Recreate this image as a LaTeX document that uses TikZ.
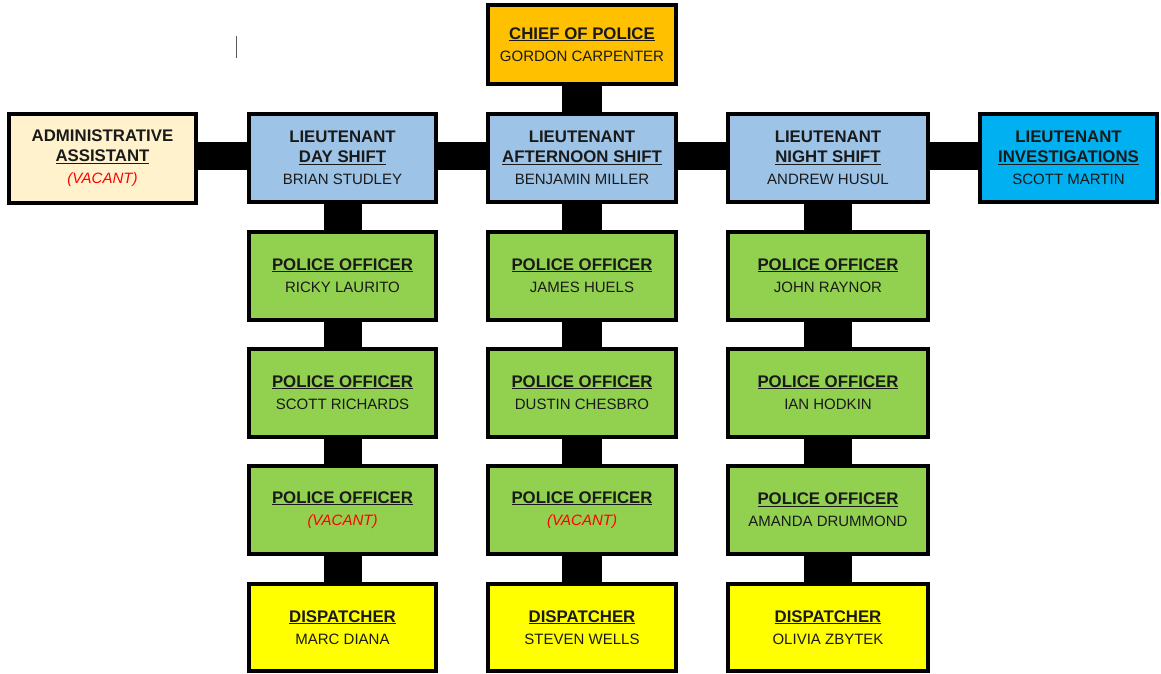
\documentclass[tikz,border=0pt]{standalone}
\usepackage{fontspec}
\setmainfont{Liberation Sans}
\usetikzlibrary{backgrounds}
\definecolor{chiefc}{HTML}{FFC000}
\definecolor{ltc}{HTML}{9DC3E6}
\definecolor{invc}{HTML}{00B0F0}
\definecolor{admc}{HTML}{FFF2CC}
\definecolor{offc}{HTML}{92D050}
\definecolor{dispc}{HTML}{FFFF00}
\definecolor{vacc}{HTML}{FF0000}
\definecolor{txtc}{HTML}{1A1A1A}
\newsavebox\ulbox
\newcommand\ulx[1]{\sbox{\ulbox}{#1}\rlap{\rule[-2pt]{\wd\ulbox}{1.2pt}}\usebox{\ulbox}}
\newcommand\ttlA[1]{{\fontsize{16.8}{20}\selectfont\bfseries #1}}
\newcommand\ttlU[1]{{\fontsize{16.8}{20}\selectfont\bfseries\ulx{#1}}}
\newcommand\nm[1]{{\fontsize{15}{20}\selectfont #1}}
\newcommand\vac{{\fontsize{15}{20}\selectfont\itshape\color{vacc}(VACANT)}}
\tikzset{
  card/.style={draw=black, line width=4pt, inner sep=0pt, align=center, text=txtc,
    font={\fontsize{15}{20}\selectfont}},
  ltbox/.style={card, fill=ltc, minimum height=88pt},
  offbox/.style={card, fill=offc, minimum height=88pt},
  dispbox/.style={card, fill=dispc, minimum height=87pt},
  hbar/.style={draw=black, line width=28pt},
  vbarline/.style={draw=black, line width=#1},
}
\begin{document}
\begin{tikzpicture}[x=1pt,y=-1pt]
\useasboundingbox (0,0) rectangle (1161,673);

% top
\node[card, fill=chiefc, minimum width=188pt, minimum height=79pt] (chief) at (582,44.5)
  {\ttlU{CHIEF OF POLICE}\\[2pt]\nm{GORDON CARPENTER}};

% lieutenant row
\node[card, fill=admc, minimum width=187pt, minimum height=89pt] (admin) at (102.5,158.5)
  {\ttlA{ADMINISTRATIVE}\\\ttlU{ASSISTANT}\\[2pt]\vac};
\node[ltbox, minimum width=187pt] (day) at (342.5,158)
  {\ttlA{LIEUTENANT}\\\ttlU{DAY SHIFT}\\[2pt]\nm{BRIAN STUDLEY}};
\node[ltbox, minimum width=188pt] (aft) at (582,158)
  {\ttlA{LIEUTENANT}\\\ttlU{AFTERNOON SHIFT}\\[2pt]\nm{BENJAMIN MILLER}};
\node[ltbox, minimum width=200pt] (night) at (828,158)
  {\ttlA{LIEUTENANT}\\\ttlU{NIGHT SHIFT}\\[2pt]\nm{ANDREW HUSUL}};
\node[card, fill=invc, minimum width=177pt, minimum height=88pt] (inv) at (1068.5,158)
  {\ttlA{LIEUTENANT}\\\ttlU{INVESTIGATIONS}\\[2pt]\nm{SCOTT MARTIN}};

% day column
\node[offbox, minimum width=187pt] (d1) at (342.5,275.5) {\ttlU{POLICE OFFICER}\\[2pt]\nm{RICKY LAURITO}};
\node[offbox, minimum width=187pt] (d2) at (342.5,392.5) {\ttlU{POLICE OFFICER}\\[2pt]\nm{SCOTT RICHARDS}};
\node[offbox, minimum width=187pt] (d3) at (342.5,510) {\ttlU{POLICE OFFICER}\\[2pt]\vac};
\node[dispbox, minimum width=187pt] (d4) at (342.5,627.5) {\ttlU{DISPATCHER}\\[2pt]\nm{MARC DIANA}};

% afternoon column
\node[offbox, minimum width=188pt] (a1) at (582,275.5) {\ttlU{POLICE OFFICER}\\[2pt]\nm{JAMES HUELS}};
\node[offbox, minimum width=188pt] (a2) at (582,392.5) {\ttlU{POLICE OFFICER}\\[2pt]\nm{DUSTIN CHESBRO}};
\node[offbox, minimum width=188pt] (a3) at (582,510) {\ttlU{POLICE OFFICER}\\[2pt]\vac};
\node[dispbox, minimum width=188pt] (a4) at (582,627.5) {\ttlU{DISPATCHER}\\[2pt]\nm{STEVEN WELLS}};

% night column
\node[offbox, minimum width=200pt] (n1) at (828,275.5) {\ttlU{POLICE OFFICER}\\[2pt]\nm{JOHN RAYNOR}};
\node[offbox, minimum width=200pt] (n2) at (828,392.5) {\ttlU{POLICE OFFICER}\\[2pt]\nm{IAN HODKIN}};
\node[offbox, minimum width=200pt] (n3) at (828,510) {\ttlU{POLICE OFFICER}\\[2pt]\nm{AMANDA DRUMMOND}};
\node[dispbox, minimum width=200pt] (n4) at (828,627.5) {\ttlU{DISPATCHER}\\[2pt]\nm{OLIVIA ZBYTEK}};

% text cursor mark
\draw[gray!70!black, line width=1pt] (236,36) -- (236,58);

\begin{scope}[on background layer]
  \draw[hbar] ([yshift=2.5pt]admin.east) -- ([yshift=2pt]day.west);
  \draw[hbar] ([yshift=2pt]day.east) -- ([yshift=2pt]aft.west);
  \draw[hbar] ([yshift=2pt]aft.east) -- ([yshift=2pt]night.west);
  \draw[hbar] ([yshift=2pt]night.east) -- ([yshift=2pt]inv.west);
  \draw[vbarline=40pt] (chief.south) -- (aft.north);
  \draw[vbarline=38pt] (day.south) -- (d1.north);
  \draw[vbarline=38pt] (d1.south) -- (d2.north);
  \draw[vbarline=38pt] (d2.south) -- (d3.north);
  \draw[vbarline=38pt] (d3.south) -- (d4.north);
  \draw[vbarline=40pt] (aft.south) -- (a1.north);
  \draw[vbarline=40pt] (a1.south) -- (a2.north);
  \draw[vbarline=40pt] (a2.south) -- (a3.north);
  \draw[vbarline=40pt] (a3.south) -- (a4.north);
  \draw[vbarline=48pt] (night.south) -- (n1.north);
  \draw[vbarline=48pt] (n1.south) -- (n2.north);
  \draw[vbarline=48pt] (n2.south) -- (n3.north);
  \draw[vbarline=48pt] (n3.south) -- (n4.north);
\end{scope}
\end{tikzpicture}
\end{document}
